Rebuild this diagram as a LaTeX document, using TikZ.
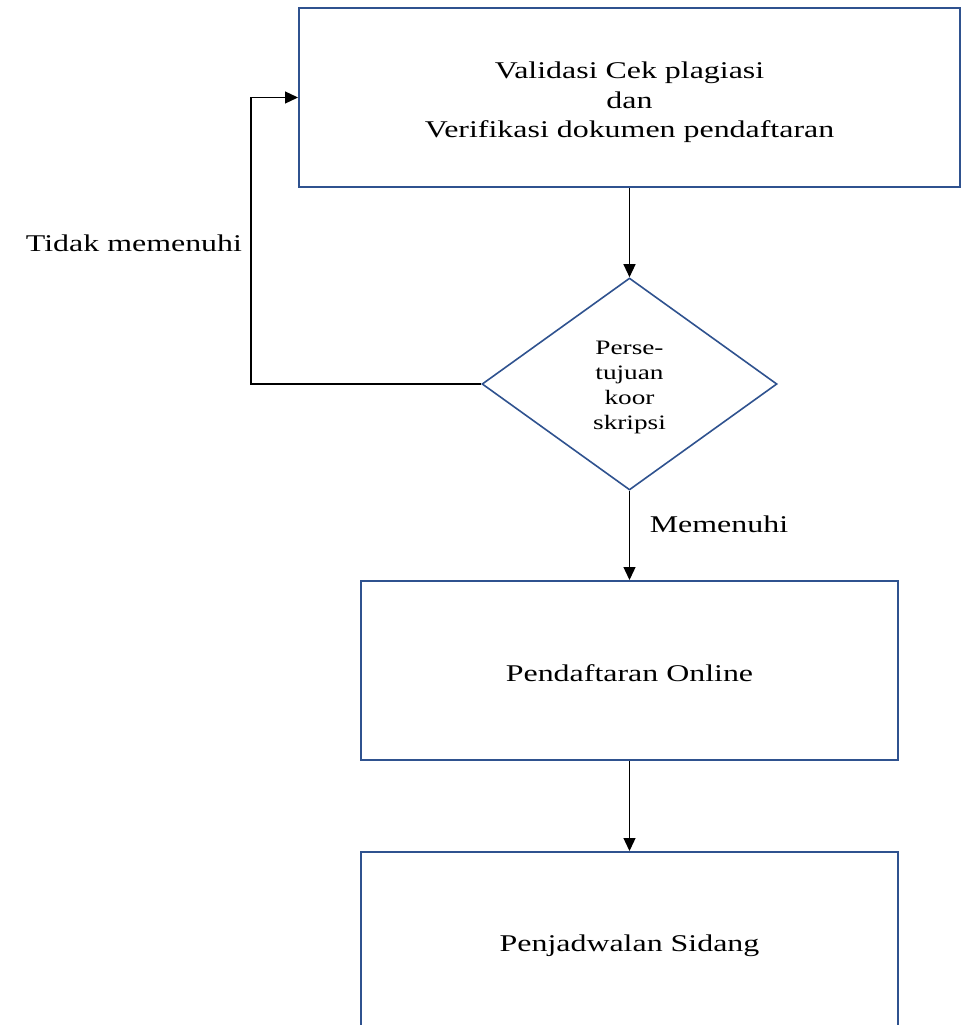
\documentclass[tikz,border=0pt]{standalone}
\usepackage{fontspec}
\setmainfont[FakeStretch=1.33]{Liberation Serif}
\usetikzlibrary{shapes.geometric,arrows.meta,calc}
\definecolor{wordblue}{RGB}{47,82,143}
\begin{document}
\begin{tikzpicture}[x=1pt,y=-1pt,
  procbox/.style={draw=wordblue, line width=2pt, fill=white, inner sep=0pt,
    minimum height=179pt},
  boxtext/.style={align=center, inner sep=0pt, font=\fontsize{24}{29.5}\selectfont},
  decision/.style={diamond, draw=wordblue, line width=1.6pt, fill=white, inner sep=0pt,
    minimum width=295pt, minimum height=212pt},
  dtext/.style={align=center, inner sep=0pt, font=\fontsize{20.5}{25}\selectfont},
  conn/.style={line width=1.3pt, -{Triangle[length=13pt,width=12pt]}},
  lbl/.style={font=\fontsize{24}{29.5}\selectfont, inner sep=0pt}]
\clip (0,0) rectangle (961,1025);
\fill[white] (0,0) rectangle (961,1025);
\node[procbox, minimum width=661pt] (b1) at (629.5,97.5) {};
\node[boxtext] (b1t) at ($(b1.center)+(0,5)$)
  {Validasi Cek plagiasi\\dan\\Verifikasi dokumen pendaftaran};
\node[decision] (d) at (629.5,384) {};
\node[dtext] (dt) at ($(d.center)+(0,3)$) {Perse-\\tujuan\\koor\\skripsi};
\node[procbox, minimum width=537pt] (b2) at (629.5,670.5) {};
\node[boxtext] (b2t) at ($(b2.center)+(0,3)$) {Pendaftaran Online};
\node[procbox, minimum width=537pt] (b3) at (629.5,941.5) {};
\node[boxtext] (b3t) at ($(b3.center)+(0,4)$) {Penjadwalan Sidang};
\draw[conn] (b1.south) -- (d.north);
\draw[conn] (d.south) -- (b2.north);
\draw[conn] (b2.south) -- (b3.north);
\coordinate (fb) at ($(b1.west)+(-47,0)$);
\draw[conn] (d.west) -| (fb) -- (b1.west);
\node[lbl] (t1) at (134,243) {Tidak memenuhi};
\node[lbl] (t2) at (719,524) {Memenuhi};
\end{tikzpicture}
\end{document}
